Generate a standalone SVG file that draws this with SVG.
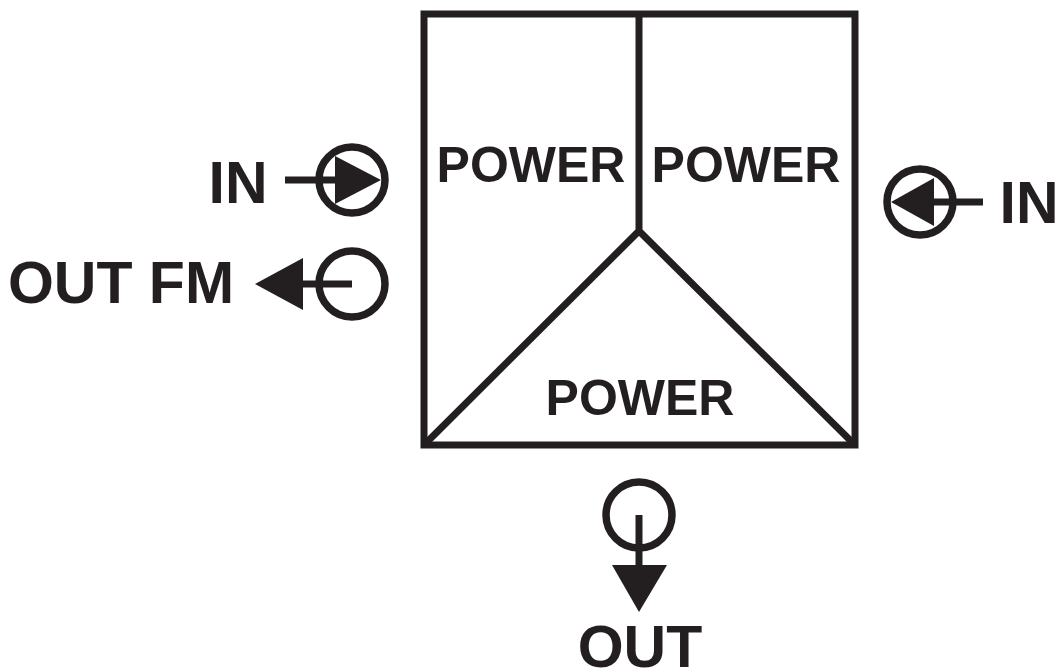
<svg xmlns="http://www.w3.org/2000/svg" width="1059" height="671" viewBox="0 0 1059 671">
<style>
.l{fill:none;stroke:#231f20;stroke-width:7}
.c{fill:none;stroke:#231f20;stroke-width:7.5}
.h{fill:#231f20;stroke:none}
.t{font-family:"Liberation Sans",Arial,sans-serif;font-weight:700;fill:#231f20}
.p{font-size:50px}
.s{font-size:59px}
</style>
<rect width="1059" height="671" fill="#fff"/>
<g id="amplifier">
<rect class="l" x="424" y="14" width="431" height="431"/>
<path class="l" d="M639 14V231M424 445L639 231L855 445"/>
<text class="t p" x="531" y="182" text-anchor="middle">POWER</text>
<text class="t p" x="746" y="182" text-anchor="middle">POWER</text>
<text class="t p" x="640" y="415" text-anchor="middle">POWER</text>
</g>
<g id="in-left">
<circle class="c" cx="352" cy="180" r="33"/>
<path class="l" d="M285 180H340"/>
<path class="h" d="M335 156L381 180L335 204Z"/>
<text class="t s" x="238" y="203" text-anchor="middle">IN</text>
</g>
<g id="out-fm">
<circle class="c" cx="352" cy="284" r="33"/>
<path class="l" d="M300 284H352"/>
<path class="h" d="M255 284L303 258V310Z"/>
<text class="t s" x="121" y="303" text-anchor="middle">OUT FM</text>
</g>
<g id="in-right">
<circle class="c" cx="920" cy="202" r="33"/>
<path class="l" d="M930 202H983"/>
<path class="h" d="M891 202L934 178V226Z"/>
<text class="t s" x="1029" y="223" text-anchor="middle">IN</text>
</g>
<g id="out">
<circle class="c" cx="639" cy="515" r="33"/>
<path class="l" d="M639 515V570"/>
<path class="h" d="M612 565H667L639 612Z"/>
<text class="t s" x="640" y="667" text-anchor="middle">OUT</text>
</g>
</svg>
